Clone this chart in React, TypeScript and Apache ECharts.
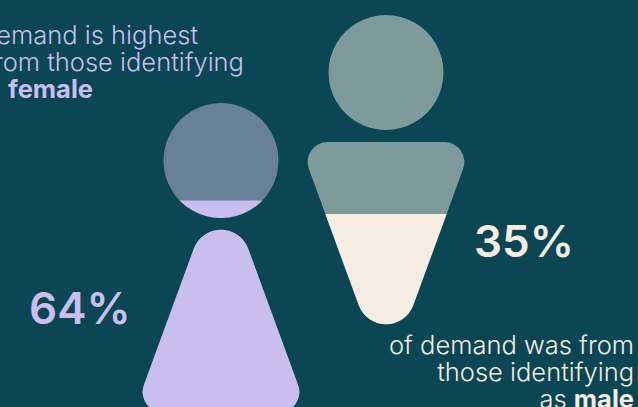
import React, { useEffect, useRef } from "react";
import * as echarts from "echarts";

// Share of demand by gender identity
const categories = ["female", "male"];
const shares = [64, 35];
const scaleMax = 100;

const femaleLines = ["of demand is highest", "from those identifying"];
const maleLines = ["of demand was from", "those identifying"];

const BACKGROUND = "#0B4654";
const FEMALE_FILL = "#C9BEEE";
const FEMALE_REST = "#688098";
const MALE_FILL = "#F5ECE2";
const MALE_REST = "#7F9A9A";
const FONT = "Inter";
const TEXT_SIZE = 25.5;

type Pt = [number, number];

// Outline of a polygon whose corners are replaced by tangent arcs.
function roundedPolygon(points: Pt[], radii: number[]): string {
  const n = points.length;
  let d = "";
  points.forEach((p, i) => {
    const a = points[(i - 1 + n) % n];
    const b = points[(i + 1) % n];
    const la = Math.hypot(a[0] - p[0], a[1] - p[1]);
    const lb = Math.hypot(b[0] - p[0], b[1] - p[1]);
    const ua: Pt = [(a[0] - p[0]) / la, (a[1] - p[1]) / la];
    const ub: Pt = [(b[0] - p[0]) / lb, (b[1] - p[1]) / lb];
    const angle = Math.acos(ua[0] * ub[0] + ua[1] * ub[1]);
    const t = radii[i] / Math.tan(angle / 2);
    const start: Pt = [p[0] + ua[0] * t, p[1] + ua[1] * t];
    const end: Pt = [p[0] + ub[0] * t, p[1] + ub[1] * t];
    const cross = ua[0] * ub[1] - ua[1] * ub[0];
    const sweep = cross < 0 ? 1 : 0;
    d += `${i === 0 ? "M" : "L"}${start[0]} ${start[1]}A${radii[i]} ${radii[i]} 0 0 ${sweep} ${end[0]} ${end[1]}`;
  });
  return d + "Z";
}

// Tapered body: wide at the shoulders for the male figure, flipped for the female one.
function bodyPath(cx: number, top: number, flipped: boolean): string {
  const height = 182;
  const halfWide = 87;
  const apex = 237.7;
  const y = (v: number) => (flipped ? top + height - v : top + v);
  const pts: Pt[] = [
    [cx - halfWide, y(0)],
    [cx + halfWide, y(0)],
    [cx, y(apex)],
  ];
  const ordered = flipped ? ([pts[1], pts[0], pts[2]] as Pt[]) : pts;
  return roundedPolygon(ordered, [20, 20, 29]);
}

function figureSeries(
  index: number,
  headTop: number,
  bodyTop: number,
  flipped: boolean,
  fill: string,
  rest: string
) {
  const headRadius = 57.5;
  return {
    type: "custom",
    name: categories[index],
    coordinateSystem: "cartesian2d",
    xAxisIndex: index,
    yAxisIndex: index,
    clip: false,
    data: [[0, shares[index]]],
    renderItem: (_params: any, api: any) => {
      const [cx, level] = api.coord([api.value(0), api.value(1)]);
      const cy = headTop + headRadius;
      const body = bodyPath(cx, bodyTop, flipped);
      const fillClip = () => ({
        type: "rect",
        shape: { x: cx - 120, y: level, width: 240, height: 500 },
      });
      const head = (color: string, clipped: boolean) => ({
        type: "circle",
        shape: { cx, cy, r: headRadius },
        style: { fill: color },
        ...(clipped ? { clipPath: fillClip() } : {}),
      });
      const torso = (color: string, clipped: boolean) => ({
        type: "path",
        shape: { pathData: body },
        style: { fill: color },
        ...(clipped ? { clipPath: fillClip() } : {}),
      });
      return {
        type: "group",
        children: [head(rest, false), torso(rest, false), head(fill, true), torso(fill, true)],
      };
    },
  };
}

const richStyles = (fill: string) => ({
  n: { font: `300 ${TEXT_SIZE}px ${FONT}`, fill, lineHeight: 27 },
  b: { font: `700 ${TEXT_SIZE}px ${FONT}`, fill, lineHeight: 27 },
});

// Right-aligned block of text; each entry is one line, bold words marked with {b|...}.
const paragraph = (lines: string[], x: number, y: number, fill: string) => ({
  type: "text",
  x,
  y,
  style: {
    text: lines.join("\n"),
    fill,
    align: "right",
    verticalAlign: "bottom",
    rich: richStyles(fill),
  },
});

const plain = (line: string) => `{n|${line}}`;
const closing = (word: string) => `{n|as }{b|${word}}`;

const bigNumber = (value: number, x: number, y: number, fill: string) => ({
  type: "text",
  x,
  y,
  style: {
    text: `${value}%`,
    fill,
    font: `600 44px ${FONT}`,
    textAlign: "left",
    textVerticalAlign: "bottom",
  },
});

export default function App() {
  const ref = useRef<HTMLDivElement>(null);

  useEffect(() => {
    document.body.style.margin = "0";
    const chart = echarts.init(ref.current!, undefined, { renderer: "svg" });
    const hiddenX = (gridIndex: number) => ({
      type: "category",
      gridIndex,
      data: [categories[gridIndex]],
      show: false,
    });
    const hiddenY = (gridIndex: number) => ({
      type: "value",
      gridIndex,
      min: 0,
      max: scaleMax,
      show: false,
    });
    chart.setOption({
      animation: false,
      backgroundColor: BACKGROUND,
      grid: [
        { left: 121, width: 200, top: 103, height: 270.8 },
        { left: 286, width: 200, top: 15, height: 306 },
      ],
      xAxis: [hiddenX(0), hiddenX(1)],
      yAxis: [hiddenY(0), hiddenY(1)],
      series: [
        figureSeries(0, 103, 230, true, FEMALE_FILL, FEMALE_REST),
        figureSeries(1, 15, 142, false, MALE_FILL, MALE_REST),
      ],
      graphic: [
        paragraph([plain(femaleLines[0])], 198, 48, FEMALE_FILL),
        paragraph([plain(femaleLines[1])], 244, 75, FEMALE_FILL),
        paragraph([closing(categories[0])], 93, 102, FEMALE_FILL),
        bigNumber(shares[0], 29, 330, FEMALE_FILL),
        bigNumber(shares[1], 474, 263, MALE_FILL),
        paragraph([plain(maleLines[0]), plain(maleLines[1]), closing(categories[1])], 634, 412, MALE_FILL),
      ],
    });
    return () => chart.dispose();
  }, []);

  return <div ref={ref} style={{ width: 638, height: 407 }} />;
}
